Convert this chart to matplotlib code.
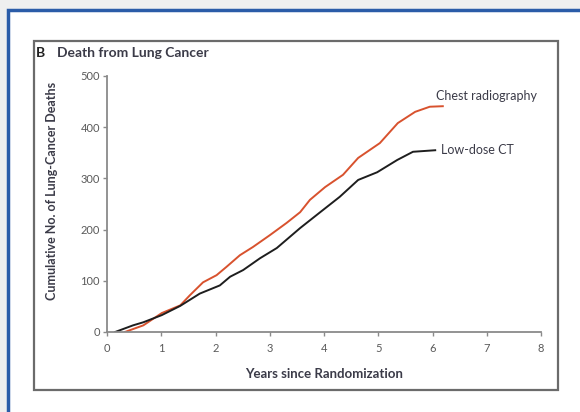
import matplotlib.pyplot as plt
from matplotlib.patches import Rectangle

# values
years_cxr = [0.33, 0.67, 1.01, 1.35, 1.53, 1.77, 2.02, 2.2, 2.45, 2.69, 3.0, 3.31,
             3.56, 3.74, 4.02, 4.35, 4.63, 5.03, 5.36, 5.68, 5.95, 6.19]
deaths_cxr = [0, 13, 37, 52, 72, 97, 111, 127, 150, 166, 189, 213,
              234, 258, 283, 307, 340, 369, 408, 430, 440, 441]

years_ct = [0.15, 0.48, 0.67, 1.01, 1.35, 1.71, 2.08, 2.27, 2.51, 2.82, 3.13, 3.56,
            3.93, 4.29, 4.63, 4.98, 5.35, 5.64, 6.05]
deaths_ct = [0, 13, 19, 33, 51, 75, 91, 108, 121, 144, 164, 203,
             234, 264, 297, 312, 336, 352, 355]

x_ticks = [0, 1, 2, 3, 4, 5, 6, 7, 8]
y_ticks = [0, 100, 200, 300, 400, 500]

red = '#d8522e'
text_col = '#3b3b48'
axis_col = '#8a8a8a'

plt.rcParams['font.family'] = ['Lato', 'DejaVu Sans']

W, H = 580, 412
fig = plt.figure(figsize=(W / 100, H / 100), dpi=100)
fig.patch.set_facecolor('#efefef')

def fx(px):
    return px / W

def fy(py):
    return 1 - py / H

# outer blue frame (runs off the right and bottom edges)
fig.patches.append(Rectangle((fx(8), fy(420)), fx(580), fy(10) - fy(420),
                             transform=fig.transFigure, facecolor='white',
                             edgecolor='#2b5ca8', linewidth=2.5, zorder=-3))
# inner grey panel
fig.patches.append(Rectangle((fx(34), fy(390)), fx(558) - fx(34), fy(41) - fy(390),
                             transform=fig.transFigure, facecolor='white',
                             edgecolor='#6b6b6b', linewidth=1.6, zorder=-2))

fig.text(fx(36), fy(53), 'B', fontsize=10, fontweight='bold', color='#222222', va='center')
fig.text(fx(57), fy(53), 'Death from Lung Cancer', fontsize=10, fontweight='bold',
         color=text_col, va='center')

ax = fig.add_axes([fx(107), fy(332), fx(541) - fx(107), fy(76) - fy(332)])
ax.set_facecolor('none')
ax.plot(years_cxr, deaths_cxr, color=red, lw=1.4, solid_joinstyle='round')
ax.plot(years_ct, deaths_ct, color='#1e1e1e', lw=1.4, solid_joinstyle='round')

ax.text(6.07, 460, 'Chest radiography', fontsize=9, color=text_col, va='center')
ax.text(6.15, 356, 'Low-dose CT', fontsize=9, color=text_col, va='center')

ax.set_xlim(0, 8)
ax.set_ylim(0, 500)
ax.set_xticks(x_ticks)
ax.set_yticks(y_ticks)
for s in ['top', 'right']:
    ax.spines[s].set_visible(False)
for s in ['left', 'bottom']:
    ax.spines[s].set_color(axis_col)
    ax.spines[s].set_linewidth(1.3)
ax.tick_params(direction='out', length=3, width=1, color=axis_col,
               labelsize=8, labelcolor='#5a5a5a')
ax.tick_params(axis='x', pad=5)
ax.tick_params(axis='y', pad=2)

ax.set_xlabel('Years since Randomization', fontsize=9.5, fontweight='bold',
              color=text_col)
ax.xaxis.set_label_coords(0.5, -0.14)
ax.set_ylabel('Cumulative No. of Lung-Cancer Deaths', fontsize=9, fontweight='bold',
              color=text_col)
ax.yaxis.set_label_coords(-0.112, 0.55)

fig.savefig('out.png', dpi=100)
